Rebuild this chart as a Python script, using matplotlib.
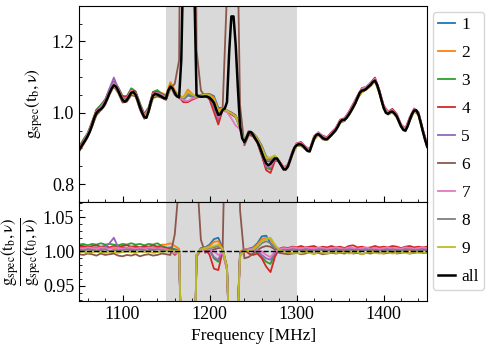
import numpy as np
import matplotlib
matplotlib.use("Agg")
import matplotlib.pyplot as plt
from matplotlib.ticker import AutoMinorLocator, MultipleLocator

plt.rcParams["font.family"] = "serif"
plt.rcParams["font.serif"] = ["Liberation Serif", "DejaVu Serif"]
plt.rcParams["mathtext.fontset"] = "stix"
plt.rcParams["font.size"] = 12.5

# frequency grids [MHz]
freq_fine = np.arange(1050, 1450.1, 2.5)
freq = np.arange(1050, 1451, 5)

# combined ("all") gain spectrum, 2.5 MHz steps
g_all = np.array([
    0.895, 0.905, 0.915, 0.924, 0.935, 0.948, 0.965, 0.985,
    0.999, 1.006, 1.010, 1.016, 1.027, 1.040, 1.055, 1.068,
    1.077, 1.073, 1.062, 1.048, 1.036, 1.031, 1.036, 1.046,
    1.056, 1.058, 1.050, 1.035, 1.016, 1.000, 0.988, 0.986,
    1.005, 1.030, 1.048, 1.053, 1.051, 1.048, 1.045, 1.041,
    1.040, 1.062, 1.073, 1.068, 1.055, 1.046, 1.043, 1.150,
    1.450, 1.620, 1.680, 1.680, 1.620, 1.350, 1.050, 1.046,
    1.045, 1.045, 1.046, 1.045, 1.042, 1.036, 1.028, 1.010,
    0.994, 0.996, 1.008, 1.012, 1.030, 1.170, 1.270, 1.270,
    1.190, 1.070, 0.962, 0.928, 0.918, 0.930, 0.945, 0.946,
    0.938, 0.928, 0.918, 0.905, 0.888, 0.872, 0.858, 0.853,
    0.857, 0.865, 0.872, 0.872, 0.862, 0.852, 0.842, 0.841,
    0.850, 0.867, 0.885, 0.902, 0.909, 0.912, 0.911, 0.907,
    0.900, 0.893, 0.892, 0.910, 0.927, 0.938, 0.940, 0.935,
    0.929, 0.926, 0.926, 0.932, 0.938, 0.945, 0.952, 0.962,
    0.974, 0.980, 0.980, 0.986, 0.995, 1.005, 1.016, 1.027,
    1.042, 1.056, 1.062, 1.063, 1.067, 1.073, 1.078, 1.086,
    1.090, 1.078, 1.058, 1.035, 1.014, 1.000, 0.997, 1.002,
    1.003, 0.998, 0.990, 0.976, 0.962, 0.952, 0.950, 0.962,
    0.980, 0.996, 1.006, 1.007, 0.995, 0.973, 0.948, 0.925,
    0.905,
])

# ratio g_b / g_all - 1, in units of 1e-3, 5 MHz steps (1050 ... 1450)
dev1 = [6, 5, 7, 5, 6, 4, 6, 5, 7, 5,
        6, 5, 7, 6, 5, 6, 4, 6, 5, 6,
        5, 6, 3, 2, -283, -372, -352, -5, 4, 6,
        10, 18, 20, 5, -24, -213, -167, -2, 2, 4,
        6, 12, 22, 23, 12, 3, 2, 4, 3, 5,
        3, 2, 0, 3, 2, 4, 2, 1, 3, 2,
        2, 0, 3, 2, -2, 1, 3, 2, 0, 2,
        3, 2, -1, 2, 3, 1, 2, -1, 2, 3,
        2]
dev2 = [4, 5, 3, 4, 5, 3, 4, 5, 4, 3,
        4, 5, 4, 3, 5, 4, 6, 5, 7, 10,
        10, 12, 8, 4, -280, -366, -350, -6, 3, 5,
        8, 14, 15, 4, -22, -212, -165, 0, 3, 2,
        5, 10, 18, 20, 18, 8, 3, 4, 2, 3,
        4, 3, 2, 4, 3, 2, 4, 3, 2, 3,
        3, 2, 4, 3, 2, 3, 4, 2, 3, 4,
        3, 2, 3, 4, 2, 3, 2, 3, 4, 3,
        3]
dev3 = [10, 11, 9, 11, 10, 12, 10, 11, 10, 9,
        11, 10, 12, 10, 11, 9, 11, 10, 12, 8,
        6, 4, 3, 2, -285, -376, -355, -5, 5, 6,
        2, -10, -15, 2, -25, -214, -168, -3, 2, 4,
        3, -2, -8, -15, -18, -3, 2, 3, 4, 3,
        4, 3, 5, 4, 3, 5, 4, 3, 4, 5,
        4, 3, 5, 4, 3, 4, 5, 3, 4, 3,
        4, 5, 3, 4, 3, 5, 4, 3, 4, 3,
        4]
dev4 = [7, 8, 6, 8, 9, 7, 8, 6, 8, 7,
        8, 9, 7, 8, 6, 8, 7, 9, 7, 6,
        5, 3, -5, 0, -290, -387, -360, -8, 3, 4,
        -5, -25, -27, 0, -26, -216, -170, -4, 3, -3,
        -5, -3, -10, -22, -30, -8, 4, 6, 5, 7,
        6, 8, 6, 7, 8, 5, 7, 6, 8, 6,
        7, 5, 8, 9, 6, 7, 5, 6, 8, 6,
        7, 6, 8, 7, 5, 7, 8, 6, 7, 6,
        7]
dev5 = [4, 3, 5, 3, 4, 5, 6, 12, 20, 6,
        4, 5, 3, 4, 6, 5, 4, 3, 5, 4,
        3, 2, -2, 1, -284, -374, -354, -6, 3, 4,
        2, -8, -12, 2, -24, -213, -168, -2, 2, 3,
        3, 1, -5, -10, -12, -2, 3, 4, 3, 4,
        3, 5, 4, 3, 5, 4, 3, 4, 5, 3,
        4, 3, 5, 4, 3, 5, 4, 3, 5, 4,
        3, 4, 5, 3, 4, 3, 5, 4, 3, 4,
        4]
dev6 = [-4, -5, -3, -4, -6, -3, -5, -4, -3, -6,
        -7, -5, -6, -4, -7, -5, -4, -6, -5, -3,
        -4, -5, 25, 100, 1000, 1000, 1000, 120, 17, -2,
        2, 3, 5, 5, 300, 500, 500, 60, -10, -8,
        -3, 2, 6, 8, 7, 3, -2, -3, -4, -3,
        -2, -4, -3, -1, -3, -2, -4, -3, -2, -3,
        -2, -3, -1, -3, -2, -4, -2, -3, -1, -2,
        -3, -2, -1, -3, -2, -1, -3, -2, -1, -2,
        -2]
dev7 = [5, 4, 6, 5, 4, 6, 5, 4, 6, 5,
        4, 5, 6, 4, 5, 4, 6, 5, 4, 5,
        3, 2, -3, -2, -286, -385, -358, -7, 2, 3,
        3, 0, -5, -2, -27, -225, -190, -8, 3, 4,
        3, 2, 0, -5, -8, 0, 3, 5, 4, 6,
        5, 4, 6, 5, 4, 6, 5, 4, 5, 6,
        5, 4, 6, 5, 4, 5, 6, 4, 5, 4,
        5, 6, 4, 5, 4, 6, 5, 4, 5, 6,
        5]
dev8 = [2, 1, 3, 2, 1, 2, 3, 1, 2, 1,
        2, 3, 1, 2, 3, 2, 1, 2, 3, 2,
        1, 2, 0, 1, -282, -372, -352, -6, 4, 6,
        5, 6, 8, 3, -23, -212, -166, -3, 2, 3,
        2, 6, 12, 15, 12, 5, 2, 1, 2, 2,
        2, 1, 3, 2, 1, 2, 3, 1, 2, 1,
        2, 3, 1, 2, 3, 1, 2, 3, 2, 1,
        2, 1, 3, 2, 1, 2, 3, 2, 1, 2,
        2]
dev9 = [-1, 0, -2, -1, 0, -1, -2, 0, -1, -2,
        -1, 0, -1, -2, 0, -1, 0, -2, -1, 0,
        0, 1, 0, 2, -281, -370, -351, -4, 3, 5,
        6, 8, 10, 4, -24, -214, -168, -5, 0, 2,
        3, 8, 15, 18, 20, 10, 2, 0, -1, -2,
        -2, -3, -1, -2, -4, -1, -2, -3, -1, -2,
        -2, -1, -3, -2, -1, -4, -2, -1, -2, -3,
        -2, -1, -3, -2, -1, -2, -3, -1, -2, -1,
        -2]
devs = [dev1, dev2, dev3, dev4, dev5, dev6, dev7, dev8, dev9]
labels = ["1", "2", "3", "4", "5", "6", "7", "8", "9"]

fig = plt.figure(figsize=(4.89, 3.44), dpi=100)
ax1 = fig.add_axes([0.1616, 0.4128, 0.712, 0.5706])
ax2 = fig.add_axes([0.1616, 0.125, 0.712, 0.2878], sharex=ax1)

for ax in (ax1, ax2):
    ax.axvspan(1150, 1300, color="#d9d9d9", lw=0, zorder=0)

g_all5 = g_all[::2]
for i, d in enumerate(devs):
    ratio = 1 + np.array(d) / 1000.0
    ax1.plot(freq, g_all5 * ratio, color=f"C{i}", lw=1.3, label=labels[i])
    ax2.plot(freq, ratio, color=f"C{i}", lw=1.3)
ax1.plot(freq_fine, g_all, color="k", lw=1.8, label="all")
ax2.axhline(1.0, color="k", ls="--", lw=1.0, zorder=5)

ax1.set_xlim(1050, 1450)
ax1.set_ylim(0.75, 1.3)
ax2.set_ylim(0.928, 1.072)
ax1.yaxis.set_major_locator(MultipleLocator(0.2))
ax1.yaxis.set_minor_locator(MultipleLocator(0.05))
ax2.yaxis.set_major_locator(MultipleLocator(0.05))
ax2.yaxis.set_minor_locator(MultipleLocator(0.01))
ax2.xaxis.set_major_locator(MultipleLocator(100))
ax2.xaxis.set_minor_locator(AutoMinorLocator(5))
ax2.yaxis.set_major_formatter(plt.FormatStrFormatter("%.2f"))

for ax in (ax1, ax2):
    ax.tick_params(which="both", direction="in", top=False, right=False,
                   labelsize=13)
    ax.tick_params(which="major", length=4)
    ax.tick_params(which="minor", length=2)
ax1.tick_params(labelbottom=False)

ax1.set_ylabel(r"$\mathrm{g_{spec}(t_b,\nu)}$")
ax2.set_ylabel(r"$\dfrac{\mathrm{g_{spec}(t_b,\nu)}}{\mathrm{g_{spec}(t_0,\nu)}}$",
               fontsize=12)
ax1.yaxis.set_label_coords(-0.097, 0.5)
ax2.yaxis.set_label_coords(-0.10, 0.5)
ax2.set_xlabel("Frequency [MHz]")

fig.legend(loc="upper left", bbox_to_anchor=(0.885, 0.966), borderaxespad=0,
           labelspacing=0.68, handlelength=1.0, handletextpad=0.35,
           borderpad=0.3)

plt.savefig("out.png", dpi=100)
